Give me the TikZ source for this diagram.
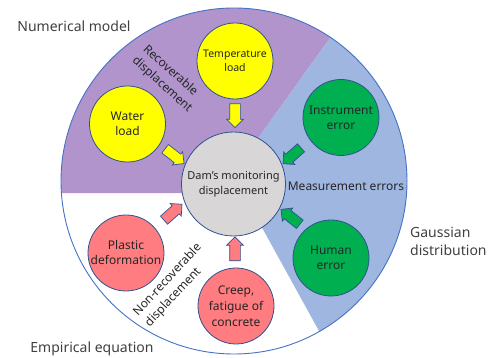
\documentclass[tikz,border=0pt]{standalone}
\usepackage{fontspec}
\setmainfont{Noto Sans}
\usetikzlibrary{shapes.arrows}
\definecolor{purp}{RGB}{177,148,204}
\definecolor{lblue}{RGB}{158,182,224}
\definecolor{rim}{RGB}{68,114,196}
\definecolor{edge}{RGB}{47,82,143}
\definecolor{yel}{RGB}{255,255,0}
\definecolor{grn}{RGB}{0,176,80}
\definecolor{salmon}{RGB}{255,124,128}
\definecolor{grayc}{RGB}{216,214,214}
\definecolor{txt}{RGB}{38,38,38}
\definecolor{lbl}{RGB}{64,64,64}
\begin{document}
\begin{tikzpicture}[x=1pt,y=1pt,
  bubble/.style={circle, draw=edge, line width=0.8pt, minimum size=76pt, inner sep=0pt, align=center, text=txt, font=\fontsize{12}{15}\selectfont},
  blockarrow/.style={single arrow, draw=edge, line width=0.7pt, minimum width=16pt, single arrow head extend=3pt, minimum height=24pt, inner sep=0pt},
  biglabel/.style={text=lbl, font=\fontsize{14}{18}\selectfont, inner sep=0pt},
  sectorlabel/.style={text=txt, font=\fontsize{12}{16}\selectfont, inner sep=0pt, align=left}]
\useasboundingbox (0,0) rectangle (496,358);
\coordinate (O) at (234,177);
\coordinate (P1) at (232.5,184);
\coordinate (P2) at (232,165);
\fill[white] (O) circle (173);
\fill[purp] ([shift={(184:173)}]O) arc[start angle=184, end angle=56.13, radius=173] -- (P1) -- (P2) -- cycle;
\fill[lblue] ([shift={(56.13:173)}]O) arc[start angle=56.13, end angle=-60.46, radius=173] -- (P1) -- cycle;
\draw[rim, line width=0.9pt] (O) circle (173);

\node[bubble, fill=grayc, minimum size=104pt, font=\fontsize{11}{15}\selectfont] (dam) at (233.5,174) {Dam's monitoring\\displacement};
\node[bubble, fill=yel, font=\fontsize{10.5}{14}\selectfont] (temp) at (235,297) {Temperature\\load};
\node[bubble, fill=yel] (water) at (127.5,234) {Water\\load};
\node[bubble, fill=grn] (instr) at (341,240.5) {Instrument\\error};
\node[bubble, fill=grn] (human) at (331,100) {Human\\error};
\node[bubble, fill=salmon] (plastic) at (126,105) {Plastic\\deformation};
\node[bubble, fill=salmon, font=\fontsize{12}{16}\selectfont] (creep) at (236,52) {Creep,\\fatigue of\\concrete};

\node[blockarrow, fill=yel, rotate=-90] (a1) at (235,245) {\rule{0pt}{10pt}};
\node[blockarrow, fill=yel, rotate=-38] (a2) at (172.5,203.5) {\rule{0pt}{10pt}};
\node[blockarrow, fill=grn, rotate=-138.4] (a3) at (294,204) {\rule{0pt}{10pt}};
\node[blockarrow, fill=grn, rotate=141.7] (a4) at (292.5,139.5) {\rule{0pt}{10pt}};
\node[blockarrow, fill=salmon, rotate=41.6] (a5) at (171,144) {\rule{0pt}{10pt}};
\node[blockarrow, fill=salmon, rotate=90] (a6) at (235,106.5) {\rule{0pt}{10pt}};

\node[biglabel, anchor=base] (num) at (74,326) {Numerical model};
\node[biglabel, anchor=base] (emp) at (92,5) {Empirical equation};
\node[biglabel, anchor=west, align=left, font=\fontsize{14}{18}\selectfont] (gauss) at (410,116.5) {Gaussian\\distribution};
\node[sectorlabel, rotate=-42] (rec) at (167.5,279) {Recoverable\\displacement};
\node[sectorlabel, rotate=47] (nonrec) at (173.5,72.5) {Non-recoverable\\displacement};
\node[text=txt, font=\fontsize{12}{15}\selectfont, inner sep=0pt] (meas) at (346,171.5) {Measurement errors};
\end{tikzpicture}
\end{document}
